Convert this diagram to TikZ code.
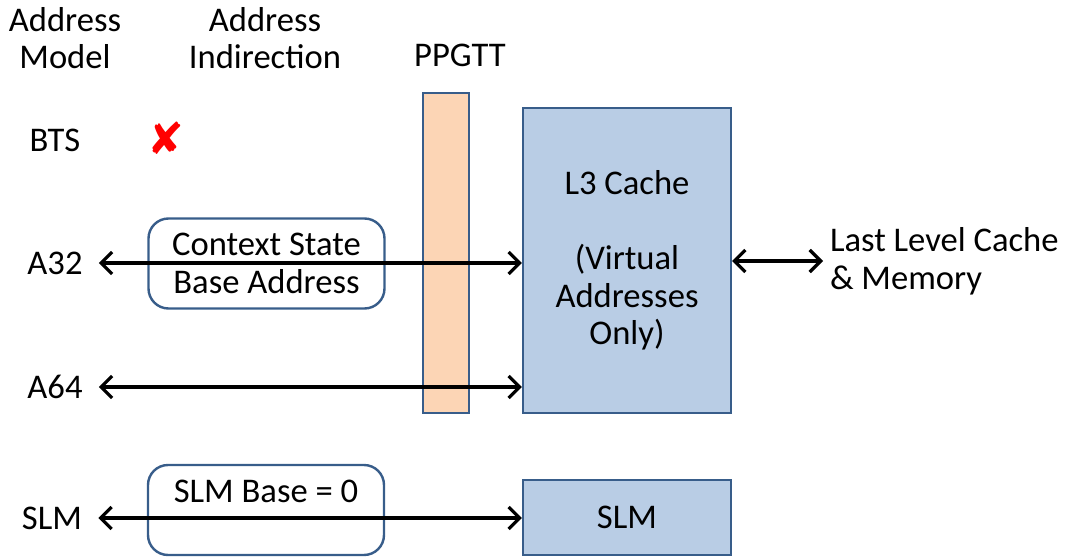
\documentclass[tikz,border=0pt]{standalone}
\usepackage{fontspec}
\setmainfont{Carlito}
\newfontfamily\symfont{DejaVu Sans}
\usepackage{tikz}
\usetikzlibrary{arrows.meta, positioning}
\definecolor{myblue}{HTML}{B9CDE5}
\definecolor{mypeach}{HTML}{FCD5B5}
\definecolor{myedge}{HTML}{385D8A}
\definecolor{myred}{RGB}{255,0,0}

\begin{document}
\begin{tikzpicture}[
    x=0.5pt, y=-0.5pt,
    font=\fontsize{17.3}{18.8}\selectfont,
    box/.style={rectangle, draw=myedge, line width=1.2pt, fill=myblue, align=center},
    ind/.style={rectangle, draw=myedge, line width=1.2pt, rounded corners=10pt, align=center, minimum width=118pt, minimum height=45pt},
    lbl/.style={inner sep=8pt},
    arrow/.style={{Straight Barb[length=5.5pt,width=11pt]}-{Straight Barb[length=5.5pt,width=11pt]}, line width=1.6pt}
]
\useasboundingbox (0,0) rectangle (1066,557);

% column heads
\node[align=center] (hmodel) at (65,38) {Address\\Model};
\node[align=center] (hind) at (265,38) {Address\\Indirection};
\node (hppgtt) at (460,55) {PPGTT};

% blocks
\node[box, fill=mypeach, minimum width=23pt, minimum height=160pt] (ppgtt) at (446,253) {};
\node[box, minimum width=104pt, minimum height=152.5pt] (l3) at (627,260.5) {L3 Cache\\[18.8pt](Virtual\\Addresses\\Only)};
\node[box, minimum width=104pt, minimum height=37.5pt] (slm) at (627,517.5) {SLM};
\node[ind] (ctx) at (266.5,263.5) {Context State\\Base Address};
\node[ind] (slmbase) at (266,510) {SLM Base = 0\\\mbox{}};
\node[anchor=west, align=left] (llc) at (823,261) {Last Level Cache\\\& Memory};

% address models
\node[lbl] (bts) at (55,140) {BTS};
\node[lbl] (a32) at (55,263) {A32};
\node[lbl] (a64) at (55,387) {A64};
\node[lbl] (slmlbl) at (52,518) {SLM};
\node[text=myred, font=\symfont\fontsize{22}{22}\selectfont] (btsx) at (166,138) {✘};

\draw[arrow] (a32) -- (a32 -| l3.west);
\draw[arrow] (a64) -- (a64 -| l3.west);
\draw[arrow] (slmlbl) -- (slmlbl -| slm.west);
\draw[arrow] (l3.east |- llc.west) -- (llc.west);
\end{tikzpicture}
\end{document}
